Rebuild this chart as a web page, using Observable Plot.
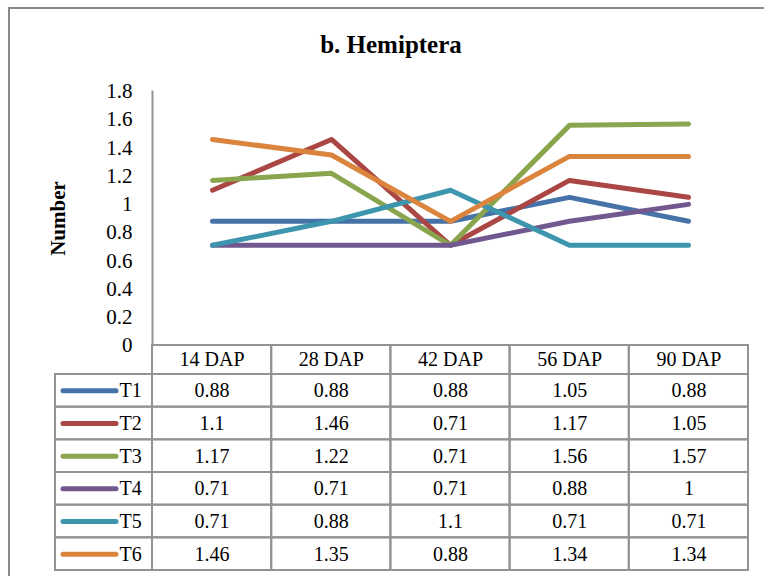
<!DOCTYPE html>
<html>
<head>
<meta charset="utf-8">
<script src="https://cdn.jsdelivr.net/npm/d3@7"></script>
<script src="https://cdn.jsdelivr.net/npm/@observablehq/plot@0.6"></script>
<style>
  html, body { margin: 0; padding: 0; background: #fff; overflow: hidden; width: 764px; height: 576px; }
  #wrap { position: relative; width: 764px; height: 576px; overflow: hidden; font-family: "Liberation Serif", "Times New Roman", serif; }
  .edge { position: absolute; background: #8a8a8a; }
  #edgeTop { left: 8px; top: 7px; width: 756px; height: 2px; }
  #edgeLeft { left: 8px; top: 7px; width: 2px; height: 569px; }
  #title { position: relative; height: 60px; box-sizing: border-box; padding-top: 31px; padding-left: 18px; line-height: 28px; text-align: center; font-weight: bold; font-size: 25px; color: #000; }
  #chart, #table { position: relative; }
  #table { margin-top: -20px; }
  svg { background: transparent !important; display: block; }
</style>
</head>
<body>
<div id="wrap">
  <div class="edge" id="edgeTop"></div>
  <div class="edge" id="edgeLeft"></div>
  <div id="title">b. Hemiptera</div>
  <div id="chart"></div>
  <div id="table"></div>
</div>
<script>
// Sampling dates and treatments
const categories = ["14 DAP", "28 DAP", "42 DAP", "56 DAP", "90 DAP"];
const series = ["T1", "T2", "T3", "T4", "T5", "T6"];

// Mean number of Hemiptera per treatment at each date
const T1 = [0.88, 0.88, 0.88, 1.05, 0.88];
const T2 = [1.1, 1.46, 0.71, 1.17, 1.05];
const T3 = [1.17, 1.22, 0.71, 1.56, 1.57];
const T4 = [0.71, 0.71, 0.71, 0.88, 1];
const T5 = [0.71, 0.88, 1.1, 0.71, 0.71];
const T6 = [1.46, 1.35, 0.88, 1.34, 1.34];

const yTicks = [0, 0.2, 0.4, 0.6, 0.8, 1, 1.2, 1.4, 1.6, 1.8];
const colors = ["#4572a7", "#aa4643", "#89a54e", "#71588f", "#3d96ae", "#db843d"];

const values = [T1, T2, T3, T4, T5, T6];
const rows = series.flatMap((s, i) =>
  values[i].map((v, j) => ({series: s, si: i, cat: categories[j], ci: j, value: v}))
);

const font = "'Liberation Serif', 'Times New Roman', serif";
const grid = "#939393";

// Line chart
const chart = Plot.plot({
  width: 764,
  height: 300,
  marginTop: 31,
  marginBottom: 15,
  marginLeft: 152,
  marginRight: 16,
  style: {fontFamily: font, fontSize: "21px", color: "#000", background: "transparent"},
  x: {type: "point", domain: categories, padding: 0.5, axis: null},
  y: {domain: [0, 1.8], ticks: yTicks, tickSize: 0, tickPadding: 20,
      tickFormat: d => String(+d.toFixed(2)), label: null},
  color: {domain: series, range: colors},
  marks: [
    Plot.frame({anchor: "left", stroke: grid, strokeWidth: 2}),
    Plot.line(rows, {x: "cat", y: "value", z: "series", stroke: "series",
      strokeWidth: 5, strokeLinecap: "round", strokeLinejoin: "round"}),
    Plot.text(["Number"], {frameAnchor: "left", dx: -94, rotate: -90, textAnchor: "middle",
      fontWeight: "bold", fontSize: 21, fill: "#000"})
  ]
});
document.getElementById("chart").appendChild(chart);

// Data table with legend keys beneath the chart
const colW = 119.2;           // width of one date column, px
const keyW = 97 / colW;        // legend key column, in column units
const hdrH = 29 / 32.67;       // header row height, in row units
const table = Plot.plot({
  width: 764,
  height: 236,
  marginTop: 5,
  marginBottom: 6,
  marginLeft: 55,
  marginRight: 16,
  style: {fontFamily: font, fontSize: "20px", color: "#000", background: "transparent"},
  x: {type: "linear", domain: [-keyW, categories.length], axis: null},
  y: {type: "linear", domain: [0, hdrH + series.length], reverse: true, axis: null},
  color: {domain: series, range: colors},
  marks: [
    Plot.rect(categories, {x1: (d, i) => i, x2: (d, i) => i + 1, y1: 0, y2: hdrH,
      fill: "none", stroke: grid, strokeWidth: 2}),
    Plot.rect(series, {x1: -keyW, x2: 0, y1: (d, i) => hdrH + i, y2: (d, i) => hdrH + i + 1,
      fill: "none", stroke: grid, strokeWidth: 2}),
    Plot.rect(rows, {x1: d => d.ci, x2: d => d.ci + 1, y1: d => hdrH + d.si, y2: d => hdrH + d.si + 1,
      fill: "none", stroke: grid, strokeWidth: 2}),
    Plot.text(categories, {x: (d, i) => i + 0.5, y: hdrH / 2, text: d => d, fill: "#000"}),
    Plot.text(rows, {x: d => d.ci + 0.5, y: d => hdrH + d.si + 0.5, text: d => String(d.value), fill: "#000"}),
    Plot.ruleY(series, {y: (d, i) => hdrH + i + 0.5, x1: -keyW + 8 / colW, x2: -keyW + 61 / colW,
      stroke: d => d, strokeWidth: 5, strokeLinecap: "round"}),
    Plot.text(series, {x: -keyW + 64 / colW, y: (d, i) => hdrH + i + 0.5, text: d => d,
      textAnchor: "start", fill: "#000"})
  ]
});
document.getElementById("table").appendChild(table);
</script>
</body>
</html>
